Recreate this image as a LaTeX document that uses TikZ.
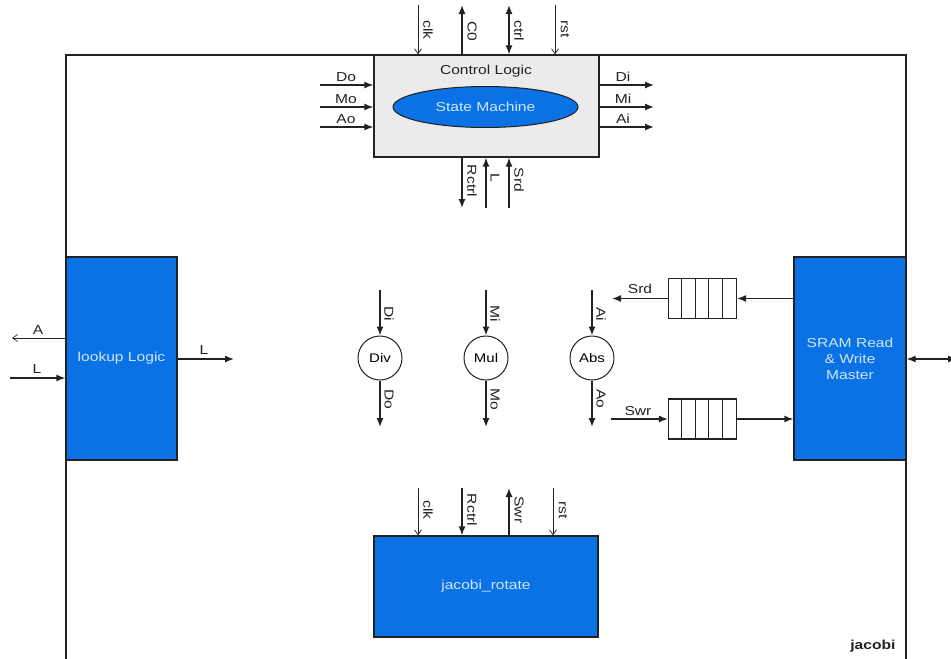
\documentclass[tikz,border=0pt]{standalone}
\usepackage{fontspec}
\setmainfont[FakeStretch=1.2]{Liberation Sans}
\usetikzlibrary{arrows.meta,shapes.geometric}
\definecolor{blk}{HTML}{0B72E6}
\definecolor{btxt}{HTML}{CDE6FF}
\definecolor{gbox}{HTML}{EBEBEB}
\definecolor{ln}{HTML}{222222}
\tikzset{
  frame/.style={draw=ln, line width=1.3pt},
  bluebox/.style={draw=ln, line width=1.3pt, fill=blk, text=btxt, font=\fontsize{13}{15}\selectfont, align=center, inner sep=0pt},
  graybox/.style={draw=ln, line width=1.3pt, fill=gbox},
  fnc/.style={circle, draw=ln, line width=1pt, fill=white, minimum size=44pt, inner sep=0pt, font=\fontsize{12.5}{15}\selectfont},
  queue/.style={draw=ln, line width=1.1pt, fill=white, minimum width=68pt, minimum height=40pt, inner sep=0pt},
  thk/.style={draw=ln, line width=1.3pt, -{Latex[length=9pt,width=7pt]}},
  thkboth/.style={draw=ln, line width=1.3pt, {Latex[length=9pt,width=7pt]}-{Latex[length=9pt,width=7pt]}},
  thn/.style={draw=ln, line width=0.7pt, -{Straight Barb[length=5pt,width=7pt]}},
  lbl/.style={text=ln, font=\fontsize{13}{15}\selectfont, inner sep=1pt},
  vlbl/.style={text=ln, font=\fontsize{13}{15}\selectfont, inner sep=1pt, rotate=-90},
}
\begin{document}
\begin{tikzpicture}[x=1pt,y=-1pt]
\useasboundingbox (0,0) rectangle (951,659);
\fill[white] (0,0) rectangle (951,659);
% outer frame
\draw[frame] (66,670) -- (66,55) -- (906,55) -- (906,670);
% control logic
\node[graybox, minimum width=225pt, minimum height=102pt] (ctrl) at (486.5,106) {};
\node[lbl] (ctrlt) at (486,71) {Control Logic};
\node[ellipse, draw=ln, line width=1pt, fill=blk, text=btxt, minimum width=185pt, minimum height=41pt, inner sep=0pt, font=\fontsize{13}{15}\selectfont] (sm) at (485.5,107) {State Machine};
% top ports
\coordinate (clkT) at (418,5);
\coordinate (c0T) at (462,5);
\coordinate (ctT) at (509,5);
\coordinate (rstT) at (555,5);
\draw[thn] (clkT) -- (clkT |- ctrl.north);
\draw[thk] (c0T |- ctrl.north) -- (c0T);
\draw[thkboth] (ctT) -- (ctT |- ctrl.north);
\draw[thn] (rstT) -- (rstT |- ctrl.north);
\node[vlbl] (lclk) at (428,30) {clk};
\node[vlbl] (lc0) at (472,31) {C0};
\node[vlbl] (lct) at (519,31) {ctrl};
\node[vlbl] (lrst) at (565,29) {rst};
% left ins
\coordinate (doL) at (320,85);
\coordinate (moL) at (320,107);
\coordinate (aoL) at (320,127);
\draw[thk] (doL) -- (doL -| ctrl.west);
\draw[thk] (moL) -- (moL -| ctrl.west);
\draw[thk] (aoL) -- (aoL -| ctrl.west);
\node[lbl] (ldo) at (346,77) {Do};
\node[lbl] (lmo) at (346,99) {Mo};
\node[lbl] (lao) at (346,119) {Ao};
% right outs
\coordinate (diR) at (654,85);
\coordinate (miR) at (654,107);
\coordinate (aiR) at (654,127);
\draw[thk] (diR -| ctrl.east) -- (diR);
\draw[thk] (miR -| ctrl.east) -- (miR);
\draw[thk] (aiR -| ctrl.east) -- (aiR);
\node[lbl] (ldi) at (623,77) {Di};
\node[lbl] (lmi) at (623,99) {Mi};
\node[lbl] (lai) at (623,119) {Ai};
% bottom ports
\coordinate (rcB) at (462,208);
\coordinate (lB) at (486,208);
\coordinate (srB) at (509,208);
\draw[thk] (rcB |- ctrl.south) -- (rcB);
\draw[thk] (lB) -- (lB |- ctrl.south);
\draw[thk] (srB) -- (srB |- ctrl.south);
\node[vlbl] (lrc) at (472,181) {Rctrl};
\node[vlbl] (ll) at (495,178) {L};
\node[vlbl] (lsr) at (519,180) {Srd};
% lookup logic
\node[bluebox, minimum width=111pt, minimum height=203pt] (look) at (121.5,358.5) {lookup Logic};
\coordinate (aOut) at (12,338);
\coordinate (lIn) at (10,378);
\coordinate (lOut) at (234,359);
\draw[thn] (aOut -| look.west) -- (aOut);
\draw[thk] (lIn) -- (lIn -| look.west);
\draw[thk] (lOut -| look.east) -- (lOut);
\node[lbl] (la) at (38,330) {A};
\node[lbl] (lli) at (37,369) {L};
\node[lbl] (llo) at (204,350) {L};
% function units
\node[fnc] (div) at (380,358) {Div};
\node[fnc] (mul) at (486,358) {Mul};
\node[fnc] (abs) at (592,358) {Abs};
\foreach \n/\i/\o in {div/Di/Do, mul/Mi/Mo, abs/Ai/Ao}{
  \coordinate (\n T) at ([yshift=68pt]\n.center);
  \coordinate (\n B) at ([yshift=-69pt]\n.center);
  \draw[thk] (\n T) -- (\n.north);
  \draw[thk] (\n.south) -- (\n B);
  \node[vlbl] at ([xshift=9pt,yshift=44pt]\n.center) {\i};
  \node[vlbl] at ([xshift=9pt,yshift=-41pt]\n.center) {\o};
}
% SRAM master
\node[bluebox, minimum width=112pt, minimum height=203pt] (sram) at (850,358.5) {SRAM Read\\[1pt]\& Write\\[1pt]Master};
% queues
\node[queue] (q1) at (702.5,298.5) {};
\node[queue] (q2) at (702.5,419) {};
\foreach \q in {q1,q2}{
  \foreach \k in {1,2,3,4}{
    \draw[ln, line width=1.1pt] ([xshift=\k*13.6pt]\q.north west) -- ([xshift=\k*13.6pt]\q.south west);
  }
}
\coordinate (srdE) at (612,298.5);
\coordinate (swrS) at (611,419);
\draw[thk] (sram.west |- q1.east) -- (q1.east);
\draw[thk] (q1.west) -- (srdE);
\draw[thk] (swrS) -- (q2.west);
\draw[thk] (q2.east) -- (sram.west |- q2.east);
\node[lbl] (lsrd) at (640,289) {Srd};
\node[lbl] (lswr) at (638,411) {Swr};
\coordinate (extR) at (957,359);
\draw[thkboth] (sram.east |- extR) -- (extR);
% jacobi_rotate
\node[bluebox, minimum width=224pt, minimum height=101pt] (jr) at (486,586.5) {jacobi\_rotate};
\coordinate (jclk) at (418,488);
\coordinate (jrc) at (462,488);
\coordinate (jsw) at (509,488);
\coordinate (jrst) at (553,488);
\draw[thn] (jclk) -- (jclk |- jr.north);
\draw[thk] (jrc) -- (jrc |- jr.north);
\draw[thk] (jsw |- jr.north) -- (jsw);
\draw[thn] (jrst) -- (jrst |- jr.north);
\node[vlbl] (ljclk) at (428,510) {clk};
\node[vlbl] (ljrc) at (472,510) {Rctrl};
\node[vlbl] (ljsw) at (519,510) {Swr};
\node[vlbl] (ljrst) at (563,510) {rst};
% title
\node[text=ln, font=\fontsize{13}{15}\selectfont\bfseries, anchor=east] (title) at (899,646) {jacobi};
\end{tikzpicture}
\end{document}
